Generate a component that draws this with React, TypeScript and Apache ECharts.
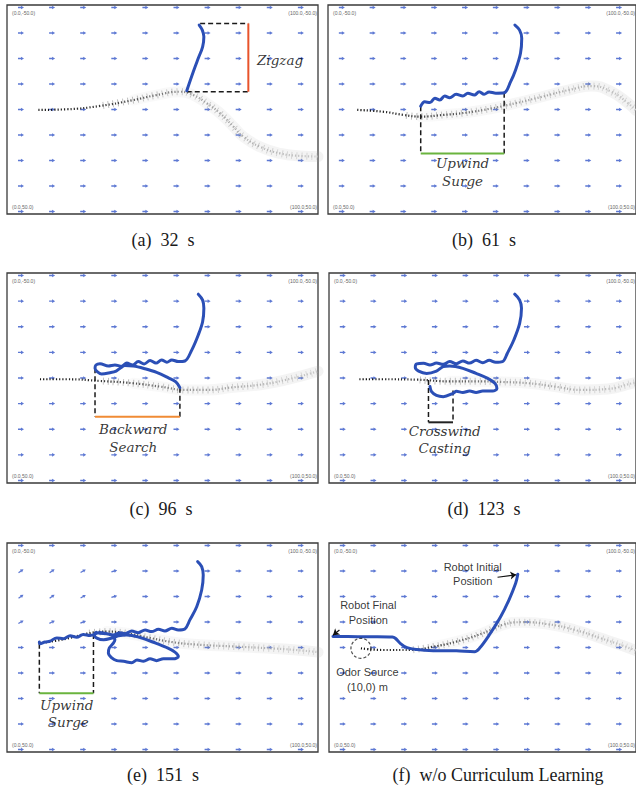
import React, { useEffect, useRef } from "react";
import * as echarts from "echarts";

// ---------- data (x: 0..100, y: -50..50, y grows downward) ----------
const ARROW_X = [4.5, 14.5, 24.5, 34.5, 44.5, 54.5, 64.5, 74.5, 84.5, 94.5];
const ARROW_Y = [-48.8, -36.6, -24.4, -12.2, 0, 12.2, 24.4, 36.6, 48.8];
// [column index, row index, tilt degrees] for panel (e)
const TILT_E: [number, number, number][] = [
  [0, 1, 35], [1, 1, 35], [2, 1, 30], [3, 1, 15],
  [0, 2, 35], [1, 2, 35], [2, 2, 30], [3, 2, 15],
  [0, 3, 30], [1, 3, 25], [2, 3, 20],
];

const CAPTIONS = [
  "(a)\u00a0\u00a032\u00a0\u00a0s",
  "(b)\u00a0\u00a061\u00a0\u00a0s",
  "(c)\u00a0\u00a096\u00a0\u00a0s",
  "(d)\u00a0\u00a0123\u00a0\u00a0s",
  "(e)\u00a0\u00a0151\u00a0\u00a0s",
  "(f)\u00a0\u00a0w/o Curriculum Learning",
];
const CORNER_LABELS = ["(0.0,-50.0)", "(100.0,-50.0)", "(0.0,50.0)", "(100.0,50.0)"];

const PLUME_A = [[10.1, 0.2], [19.2, -0.1], [29.9, -1.7], [40.6, -4.5], [48.1, -6.9], [55.6, -8.5], [59.9, -6.9], [64.2, -3.0], [68.5, 1.8], [72.8, 8.2], [76.0, 13.0], [81.3, 17.8], [87.8, 21.0], [94.2, 22.2], [100, 22.5]];
const PLUME_B = [[9.5, 0.2], [18.1, 1.1], [24.5, 2.6], [30.1, 3.4], [37.4, 2.6], [44.9, 1.5], [53.4, -0.6], [60.9, -3.0], [69.5, -6.1], [78.1, -9.3], [85.6, -11.2], [92.0, -8.5], [97.4, -3.0], [100, 0.5]];
const PLUME_C = [[10.6, 0.6], [19.2, 0.6], [29.9, 1.4], [40.6, 2.5], [49.2, 4.1], [57.8, 5.7], [64.2, 5.7], [72.8, 4.4], [81.4, 3.2], [89.9, 0.8], [100, -3.2]];
const PLUME_D = [[9.9, 0.6], [17.9, 0.6], [28.6, 0.8], [39.3, 1.6], [47.9, 1.6], [56.5, 1.9], [65.1, 2.5], [73.6, 4.1], [82.2, 5.7], [90.8, 5.2], [98.8, 2.5], [100, 2.2]];
const PLUME_E = [[11.4, -2.2], [19.2, -4.2], [25.6, -6.6], [32.0, -7.6], [38.5, -6.8], [44.9, -4.9], [53.5, -2.5], [62.1, -1.3], [72.8, -0.5], [83.5, 0.3], [92.1, 1.1], [100, 2.2]];
const PLUME_F = [[10.4, 0.4], [17.9, 1.2], [26.5, 1.2], [34.0, -0.4], [41.5, -2.8], [50.1, -6.8], [56.5, -10.8], [62.9, -12.1], [71.5, -11.1], [80.1, -8.4], [88.6, -4.4], [95.1, -1.2], [100, 1.5]];

const TRAJ_A = [[61.8, -40.4], [62.8, -38.0], [63.3, -34.8], [62.9, -30.0], [61.5, -24.5], [59.9, -18.1], [57.8, -9.0]];
const TRAJ_B = [[60.7, -40.4], [62.2, -38.0], [62.9, -34.1], [62.5, -26.9], [60.9, -18.9], [59.3, -13.3], [57.2, -8.0], [54.5, -7.8], [52.3, -8.4], [50.7, -7.3], [49.1, -8.5], [47.5, -6.9], [45.4, -7.8], [43.8, -6.5], [41.6, -7.3], [39.5, -5.6], [37.9, -6.5], [36.3, -4.5], [34.7, -5.4], [33.1, -3.3], [31.4, -3.7], [30.1, -1.6]];
const TRAJ_C = [[61.5, -39.9], [62.9, -37.1], [63.3, -33.2], [62.9, -26.8], [61.5, -20.5], [59.4, -13.3], [57.2, -8.1], [55.1, -7.8], [53.0, -8.6], [51.4, -7.5], [49.7, -8.6], [47.9, -7.1], [46.0, -8.3], [44.1, -6.7], [42.2, -7.8], [40.4, -6.2], [38.5, -7.1], [36.9, -5.6], [34.7, -6.2], [32.6, -5.7], [29.9, -6.8], [28.6, -6.2], [28.3, -4.6], [29.0, -3.0], [30.4, -1.9], [33.1, -2.5], [35.1, -3.3], [36.6, -4.9], [37.9, -5.9], [40.6, -5.7], [44.4, -4.4], [48.1, -2.7], [51.9, -0.1], [54.3, 1.8], [55.6, 4.6]];
const TRAJ_D = [[60.5, -39.9], [62.1, -37.1], [62.7, -33.2], [62.1, -26.0], [60.2, -18.1], [58.1, -11.8], [56.5, -7.8], [54.3, -7.5], [52.2, -8.4], [50.1, -7.3], [47.9, -8.4], [45.8, -7.1], [43.6, -8.1], [41.5, -6.8], [39.3, -7.8], [37.2, -6.5], [35.0, -7.1], [32.9, -6.2], [30.8, -7.0], [28.6, -6.7], [28.1, -5.1], [29.2, -3.3], [31.8, -2.2], [35.0, -3.3], [37.2, -5.4], [39.3, -5.7], [43.6, -4.6], [47.9, -2.2], [51.7, 0.2], [54.1, 2.6], [54.7, 5.0], [53.3, 6.2], [50.1, 6.2], [47.9, 6.9], [45.8, 6.2], [43.6, 6.9], [41.5, 6.3], [40.4, 7.3], [37.2, 8.9], [35.0, 8.3], [33.4, 6.5], [32.9, 4.1]];
const TRAJ_E = [[61.3, -41.1], [62.6, -38.7], [63.1, -34.7], [62.6, -27.5], [61.0, -19.5], [58.8, -13.2], [57.2, -8.9], [55.1, -8.4], [53.0, -9.2], [50.8, -7.9], [48.7, -8.7], [46.5, -7.6], [44.4, -8.4], [42.2, -7.1], [40.1, -7.9], [38.0, -6.6], [36.3, -7.1], [34.2, -6.0], [32.0, -6.6], [29.9, -6.8], [28.6, -7.2], [28.1, -6.0], [28.9, -4.5], [31.1, -3.7], [33.7, -4.5], [35.8, -5.6], [38.5, -6.0], [42.8, -4.8], [47.1, -2.5], [51.3, 0.0], [54.0, 2.2], [55.1, 4.3], [53.5, 5.4], [50.3, 5.4], [48.1, 6.3], [46.0, 5.4], [43.9, 6.6], [41.8, 6.0], [40.1, 7.3], [37.5, 6.6], [35.3, 6.3], [33.7, 5.0], [32.6, 2.6], [32.9, 0.2], [34.2, -2.1], [34.7, -3.7], [34.2, -5.3], [32.6, -6.4], [29.9, -7.2], [26.7, -5.7], [24.5, -6.2], [22.4, -4.9], [20.3, -5.6], [18.1, -4.2], [16.0, -4.6], [13.8, -3.0], [12.2, -2.6], [10.6, -1.8], [10.4, -2.6]];
const TRAJ_F = [[61.5, -35.0], [60.8, -30.7], [58.6, -22.7], [55.9, -14.7], [52.2, -6.0], [49.0, 0.4], [47.4, 2.0], [41.5, 1.6], [34.0, 1.5], [28.6, 1.0], [25.4, 0.1], [23.2, -2.0], [21.6, -4.4], [20.6, -5.0], [15.8, -5.2], [9.3, -5.2], [1.3, -5.3]];

// annotation boxes: dashed segments and one coloured segment
const DASH_A = [[[62.1, -41.2], [77.6, -41.2]], [[57.8, -8.5], [77.6, -8.5]]];
const DASH_B = [[[30.1, -1.6], [30.1, 21.0]], [[57.2, -8.0], [57.2, 21.0]]];
const DASH_C = [[[28.3, -4.6], [28.3, 18.4]], [[55.6, 4.6], [55.6, 18.4]]];
const DASH_D = [[[32.4, 1.0], [32.4, 21.1]], [[40.4, 5.9], [40.4, 21.1]]];
const DASH_E = [[[10.4, -1.8], [10.4, 21.9]], [[27.8, -6.4], [27.8, 21.9]]];
const DASH_F: number[][][] = [];
const MARK_A = [[77.6, -41.2], [77.6, -8.5]];
const MARK_B = [[30.1, 21.0], [57.2, 21.0]];
const MARK_C = [[28.3, 18.4], [55.6, 18.4]];
const MARK_D = [[32.4, 21.1], [40.4, 21.1]];
const MARK_E = [[10.4, 21.9], [27.8, 21.9]];
const MARK_F: number[][] = [];

const LABELS_A = [{ text: "Zigzag", x: 87.8, y: -23.7 }];
const LABELS_B = [{ text: "Upwind", x: 43.7, y: 25.8 }, { text: "Surge", x: 43.7, y: 34.2 }];
const LABELS_C = [{ text: "Backward", x: 40.6, y: 24.4 }, { text: "Search", x: 40.6, y: 32.7 }];
const LABELS_D = [{ text: "Crosswind", x: 37.7, y: 25.1 }, { text: "Casting", x: 37.7, y: 33.5 }];
const LABELS_E = [{ text: "Upwind", x: 19.2, y: 27.5 }, { text: "Surge", x: 19.7, y: 35.8 }];
const LABELS_F = [
  { text: "Robot Initial", x: 46.8, y: -38.4 }, { text: "Position", x: 46.8, y: -31.8 },
  { text: "Robot Final", x: 12.8, y: -20.3 }, { text: "Position", x: 12.8, y: -13.2 },
  { text: "Odor Source", x: 12.5, y: 11.6 }, { text: "(10,0) m", x: 12.5, y: 18.8 },
];
const ODOR_SOURCE = [10.4, 0.4];
const POINTERS_F = [
  [[54.9, -33.6], [61.0, -34.8]],
  [[3.4, -8.4], [1.3, -5.9]],
];

// ---------- layout / style ----------
const CHART_W = 636;
const PANEL_W = 311;
const GRIDS = [
  { left: 7, top: 5, height: 209 },
  { left: 328, top: 5, height: 209 },
  { left: 7, top: 273, height: 210 },
  { left: 329, top: 273, height: 210 },
  { left: 7, top: 543, height: 209 },
  { left: 329, top: 543, height: 209 },
];
const CAPTION_POS = [[163, 240], [484, 240], [161, 509], [484, 509], [163, 775], [498, 775]];
const MARK_COLORS = ["#e8532b", "#6ab43e", "#f08b35", "#222222", "#6ab43e", "#000"];
const ARROW_PATH = "path://M0,2.2 L5,2.2 L5,0 L10,3.5 L5,7 L5,4.8 L0,4.8 Z";
const TRAJ_COLOR = "#2b4fb6";

const PLUMES = [PLUME_A, PLUME_B, PLUME_C, PLUME_D, PLUME_E, PLUME_F];
const TRAJS = [TRAJ_A, TRAJ_B, TRAJ_C, TRAJ_D, TRAJ_E, TRAJ_F];
const DASHES = [DASH_A, DASH_B, DASH_C, DASH_D, DASH_E, DASH_F];
const MARKS = [MARK_A, MARK_B, MARK_C, MARK_D, MARK_E, MARK_F];
const LABELS = [LABELS_A, LABELS_B, LABELS_C, LABELS_D, LABELS_E, LABELS_F];

function buildOption() {
  const series: any[] = [];
  const graphics: any[] = [];
  for (let i = 0; i < 6; i++) {
    const ax = { xAxisIndex: i, yAxisIndex: i };
    const arrows: any[] = [];
    ARROW_Y.forEach((y, r) =>
      ARROW_X.forEach((x, c) => {
        let rot = 0;
        if (i === 4) {
          const t = TILT_E.find((d) => d[0] === c && d[1] === r);
          if (t) rot = t[2];
        }
        arrows.push({ value: [x, y], symbolRotate: rot });
      })
    );
    series.push({
      type: "scatter", ...ax, data: arrows, symbol: ARROW_PATH, symbolSize: [6, 3.6],
      itemStyle: { color: "#3556c8" }, silent: true, z: 1,
    });
    const plume = PLUMES[i];
    series.push({
      type: "line", ...ax, data: plume.filter((p) => p[0] >= 30), showSymbol: false, smooth: 0.5,
      lineStyle: {
        width: 11, cap: "round",
        color: new echarts.graphic.LinearGradient(0, 0, 1, 0, [
          { offset: 0, color: "rgba(150,150,150,0.05)" },
          { offset: 1, color: "rgba(160,160,160,0.13)" },
        ]),
      },
      silent: true, z: 2,
    });
    series.push({
      type: "line", ...ax, data: plume.filter((p) => p[0] >= 22), showSymbol: false, smooth: 0.5,
      lineStyle: {
        width: 7, type: [1, 4], dashOffset: 2,
        color: new echarts.graphic.LinearGradient(0, 0, 1, 0, [
          { offset: 0, color: "rgba(80,80,80,0.38)" },
          { offset: 1, color: "rgba(160,160,160,0.32)" },
        ]),
      },
      silent: true, z: 2,
    });
    series.push({
      type: "line", ...ax, data: plume, showSymbol: false, smooth: 0.5,
      lineStyle: {
        width: 2.2, type: [1.2, 2],
        color: new echarts.graphic.LinearGradient(0, 0, 1, 0, [
          { offset: 0, color: "#111" },
          { offset: 0.3, color: "#444" },
          { offset: 0.55, color: "#9a9a9a" },
          { offset: 1, color: "#c8c8c8" },
        ]),
      },
      silent: true, z: 3,
    });
    series.push({
      type: "line", ...ax, data: TRAJS[i], showSymbol: false, smooth: 0.35,
      lineStyle: { width: 3, color: TRAJ_COLOR, cap: "round", join: "round" },
      silent: true, z: 6,
    });
    DASHES[i].forEach((seg) =>
      series.push({
        type: "line", ...ax, data: seg, showSymbol: false,
        lineStyle: { width: 1.5, color: "#1a1a1a", type: [5, 3] }, silent: true, z: 4,
      })
    );
    if (MARKS[i].length) {
      series.push({
        type: "line", ...ax, data: MARKS[i], showSymbol: false,
        lineStyle: { width: 2, color: MARK_COLORS[i] }, silent: true, z: 5,
      });
    }
    const sans = i === 5;
    series.push({
      type: "scatter", ...ax, symbolSize: 1, itemStyle: { color: "rgba(0,0,0,0)" }, silent: true, z: 8,
      data: LABELS[i].map((l) => ({
        value: [l.x, l.y],
        label: {
          show: true, position: "inside", formatter: l.text,
          fontFamily: sans ? "Liberation Sans" : "DejaVu Serif",
          fontStyle: sans ? "normal" : "italic",
          fontSize: sans ? 11 : 13.5,
          color: "#000",
          textBorderWidth: 0,
        },
      })),
    });
    const g = GRIDS[i];
    const l = g.left, t = g.top, b = g.top + g.height;
    const r = Math.min(g.left + PANEL_W - 1, CHART_W - 1);
    const cornerStyle = { fontSize: 5, fontFamily: "Liberation Sans", fill: "#666" };
    graphics.push(
      { type: "text", x: l + 5, y: t + 8, z: 50, style: { ...cornerStyle, text: CORNER_LABELS[0], textAlign: "left", textVerticalAlign: "middle" } },
      { type: "text", x: r, y: t + 8, z: 50, style: { ...cornerStyle, text: CORNER_LABELS[1], textAlign: "right", textVerticalAlign: "middle" } },
      { type: "text", x: l + 5, y: b - 7, z: 50, style: { ...cornerStyle, text: CORNER_LABELS[2], textAlign: "left", textVerticalAlign: "middle" } },
      { type: "text", x: r, y: b - 7, z: 50, style: { ...cornerStyle, text: CORNER_LABELS[3], textAlign: "right", textVerticalAlign: "middle" } },
      {
        type: "text", x: CAPTION_POS[i][0], y: CAPTION_POS[i][1], z: 50,
        style: { text: CAPTIONS[i], fontSize: 18, fontFamily: "Liberation Serif", fill: "#1a1a1a", textAlign: "center", textVerticalAlign: "middle" },
      }
    );
  }
  // odor source circle and pointers in panel (f)
  series.push({
    type: "scatter", xAxisIndex: 5, yAxisIndex: 5, data: [ODOR_SOURCE], symbol: "circle", symbolSize: 20,
    itemStyle: { color: "rgba(0,0,0,0)", borderColor: "#222", borderWidth: 1.2, borderType: [3, 2] },
    silent: true, z: 7,
  });
  series.push({
    type: "lines", coordinateSystem: "cartesian2d", xAxisIndex: 5, yAxisIndex: 5,
    symbol: ["none", "arrow"], symbolSize: 6,
    lineStyle: { color: "#111", width: 1.2, opacity: 1 },
    data: POINTERS_F.map((c) => ({ coords: c })), silent: true, z: 9,
  });

  return {
    animation: false,
    backgroundColor: "#ffffff",
    grid: GRIDS.map((g) => ({
      left: g.left, top: g.top, width: PANEL_W, height: g.height,
      show: true, borderColor: "#3a3a3a", borderWidth: 1.3, backgroundColor: "#ffffff",
    })),
    xAxis: GRIDS.map((_, i) => ({ type: "value", gridIndex: i, min: 0, max: 100, show: false })),
    yAxis: GRIDS.map((_, i) => ({ type: "value", gridIndex: i, min: -50, max: 50, inverse: true, show: false })),
    series,
    graphic: graphics,
  };
}

export default function App() {
  const ref = useRef<HTMLDivElement>(null);
  useEffect(() => {
    if (!ref.current) return;
    const chart = echarts.init(ref.current, undefined, { renderer: "svg" });
    chart.setOption(buildOption() as any);
    return () => chart.dispose();
  }, []);
  return (
    <div
      ref={ref}
      style={{ position: "absolute", left: 0, top: 0, width: 636, height: 786, background: "#fff" }}
    />
  );
}
